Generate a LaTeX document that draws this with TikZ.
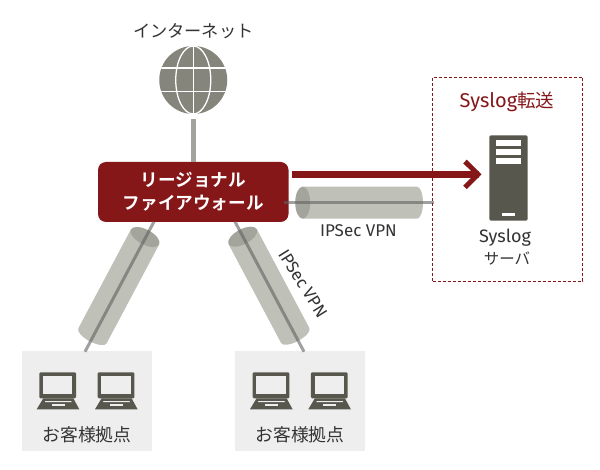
\documentclass[tikz,border=0pt]{standalone}
\usepackage{fontspec}
\newfontfamily\jp{Noto Sans CJK JP}
\newfontfamily\jpb{Noto Sans CJK JP Bold}
\newfontfamily\lat{Fira Sans}
\definecolor{fwred}{HTML}{861719}
\definecolor{dark}{HTML}{58574E}
\definecolor{globegray}{HTML}{85857B}
\definecolor{wire}{HTML}{A3A39B}
\definecolor{tubeA}{HTML}{BFC0B8}
\definecolor{tubeB}{HTML}{A3A49C}
\definecolor{sitebg}{HTML}{EEEEEE}
\definecolor{txt}{HTML}{333333}
\tikzset{
  label jp/.style={font=\jp\fontsize{17.8}{22}\selectfont,text=txt,inner sep=0pt,align=center},
  label lat/.style={font=\lat\fontsize{17}{21}\selectfont,text=txt,inner sep=0pt,align=center},
  site/.style={fill=sitebg,draw=none,minimum width=130pt,minimum height=100pt,inner sep=0pt,outer sep=0pt},
  tunnelwire/.style={draw=black!62,line width=3pt,opacity=.6},
}
\newcommand{\tunnelshape}[4]{%
  \begin{scope}[shift={(#1,#2)},rotate=#3]
    \fill[tubeA] (0,-16) -- ({#4-6},-16) arc[start angle=-90,end angle=90,x radius=6,y radius=16] -- (0,16) -- cycle;
    \fill[tubeB] (0,0) ellipse[x radius=7.5,y radius=16];
  \end{scope}}
\newcommand{\laptop}[2]{%
  \begin{scope}[shift={(#1,#2)}]
    \fill[dark,rounded corners=1.2pt] (2.6,0) rectangle (39.4,26);
    \fill[sitebg] (6.4,4) rectangle (35.6,21.5);
    \fill[dark] (6.6,26) -- (36.6,26) -- (42.6,37) -- (0,37) -- cycle;
    \fill[sitebg] (8.5,28.8) -- (34.5,28.8) -- (34.9,29.8) -- (8.1,29.8) -- cycle;
    \fill[sitebg] (15,32) rectangle (28,34);
  \end{scope}}
\begin{document}
\begin{tikzpicture}[x=1pt,y=-1pt]
\useasboundingbox (0,0) rectangle (600,470);
\fill[white] (0,0) rectangle (600,470);

% sites
\node[site] (site1) at (87,400.7) {};
\node[site] (site2) at (300,400.7) {};
\laptop{36.7}{372.3}
\laptop{95}{372.3}
\laptop{250}{372.3}
\laptop{308.3}{372.3}
\node[label jp] (t1) at (87,435) {お客様拠点};
\node[label jp] (t2) at (300,435) {お客様拠点};

% globe
\node[circle,fill=globegray,minimum size=68pt,inner sep=0pt,outer sep=0pt] (globe) at (193.25,80) {};
\begin{scope}
  \clip (globe) circle[radius=34];
  \draw[white,line width=1.3pt] (globe.north) -- (globe.south);
  \draw[white,line width=1.3pt] (159,68) -- (228,68) (159,91.5) -- (228,91.5);
  \draw[white,line width=1.3pt] (globe) ellipse[x radius=17.5,y radius=34];
\end{scope}
\node[label jp,font=\jp\fontsize{17.2}{22}\selectfont] (inet) at (193.25,31) {インターネット};

% tunnels
\tunnelshape{302.7}{202.7}{0}{120.3}
\tunnelshape{145}{237}{242}{118}
\tunnelshape{242.7}{236.7}{-62}{118}

% firewall
\node[fill=fwred,rounded corners=8pt,minimum width=190.5pt,minimum height=60pt,inner sep=0pt,outer sep=0pt,
      text=white,align=center,font=\jpb\fontsize{17.6}{23}\selectfont] (fw) at (193.25,192) {リージョナル\\ファイアウォール};
\draw[wire,line width=5pt,shorten <=5pt] (globe.south) -- (fw.north);

% wires through tunnels
\coordinate (w1) at (284,202.5);
\coordinate (w2) at (434,202.5);
\coordinate (w3) at (154,221.7);
\coordinate (w4) at (85,351.7);
\coordinate (w5) at (235,221.7);
\coordinate (w6) at (304,351.7);
\draw[tunnelwire] (w1) -- (w2);
\draw[tunnelwire] (w3) -- (w4);
\draw[tunnelwire] (w5) -- (w6);

% syslog zone
\node[draw=fwred,densely dashed,line width=.9pt,minimum width=150pt,minimum height=204pt,inner sep=0pt] (zone) at (507.7,179.3) {};
\node[font=\lat\fontsize{20}{24}\selectfont,text=fwred,inner sep=0pt] (zt) at (507,102) {Syslog{\jp\fontsize{18.5}{24}\selectfont 転送}};

% server
\node[fill=dark,rounded corners=2pt,minimum width=38.4pt,minimum height=85.4pt,inner sep=0pt,outer sep=0pt] (srv) at (508.5,178) {};
\fill[white] (496,140) rectangle (521,146.5);
\fill[white] (496,149) rectangle (521,155.2);
\fill[white] (496,158) rectangle (521,164.5);
\fill[white] (502,213) rectangle (515,216);
\node[label lat,font=\lat\fontsize{18}{21}\selectfont] (s1) at (505,238) {Syslog};
\node[label jp,font=\jp\fontsize{15.5}{20}\selectfont] (s2) at (507,259) {サーバ};

% arrow
\coordinate (a1) at (292,174.4);
\coordinate (a2) at (479,174.4);
\draw[fwred,line width=6.6pt] (a1) -- (a2);
\draw[fwred,line width=5pt,miter limit=4] (465,161.5) -- (478,174.4) -- (465,187.3);

% labels
\node[label lat] (v1) at (358.5,231) {IPSec VPN};
\node[label lat,rotate=-58] (v2) at (303,283.5) {IPSec VPN};
\end{tikzpicture}
\end{document}
